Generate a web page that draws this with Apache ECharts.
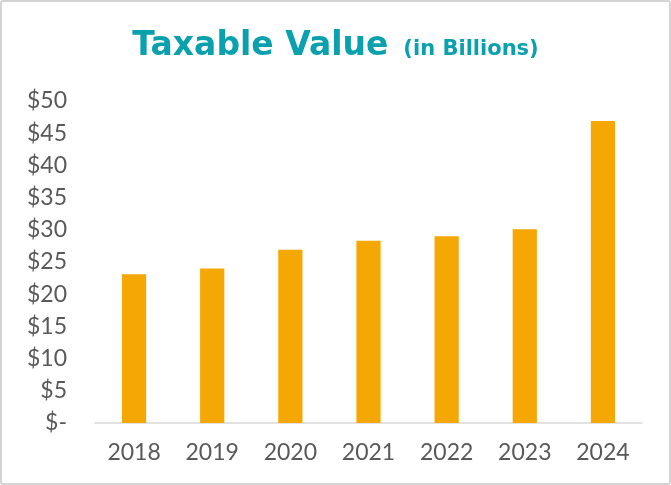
<!DOCTYPE html>
<html>
<head>
<meta charset="utf-8">
<script src="https://cdn.jsdelivr.net/npm/echarts@6/dist/echarts.min.js"></script>
<style>
  html, body { margin: 0; padding: 0; background: #fff; }
  #frame { width: 667px; height: 481px; border: 2px solid #d4d4d4; border-radius: 3px; }
  #chart { width: 667px; height: 481px; }
</style>
</head>
<body>
<div id="frame"><div id="chart"></div></div>
<script>
// Taxable value by year, in billions of dollars
const years = ['2018', '2019', '2020', '2021', '2022', '2023', '2024'];
const taxableValue = [23.1, 24.0, 26.9, 28.3, 29.0, 30.1, 46.9];
const yTicks = { min: 0, max: 50, step: 5 };

const labelFont = "'Century Gothic', 'Lato', sans-serif";
const titleFont = "'DejaVu Sans', sans-serif";

const chart = echarts.init(document.getElementById('chart'), null, { renderer: 'canvas' });
chart.setOption({
  animation: false,
  title: {
    text: '{main|Taxable Value}{sub|(in Billions)}',
    left: 'center',
    top: 23,
    textStyle: {
      rich: {
        main: { fontSize: 33, fontWeight: 'bold', color: '#0aa0ad', fontFamily: titleFont },
        sub: { fontSize: 21, fontWeight: 'bold', color: '#0aa0ad', fontFamily: titleFont, padding: [6, 0, 0, 15] }
      }
    }
  },
  grid: { left: 93, right: 27, top: 99, bottom: 60, containLabel: false },
  xAxis: {
    type: 'category',
    data: years,
    axisLine: { show: true, lineStyle: { color: '#d9d9d9', width: 1.5 } },
    axisTick: { show: false },
    axisLabel: { color: '#595959', fontSize: 23, fontFamily: labelFont, margin: 18 }
  },
  yAxis: {
    type: 'value',
    min: yTicks.min,
    max: yTicks.max,
    interval: yTicks.step,
    splitLine: { show: false },
    axisLine: { show: false },
    axisTick: { show: false },
    axisLabel: {
      color: '#595959', fontSize: 23, fontFamily: labelFont, margin: 28,
      formatter: v => v === 0 ? '$-' : '$' + v
    }
  },
  series: [{
    type: 'bar',
    data: taxableValue,
    barWidth: '31%',
    itemStyle: { color: '#f5a704' }
  }]
});
</script>
</body>
</html>
